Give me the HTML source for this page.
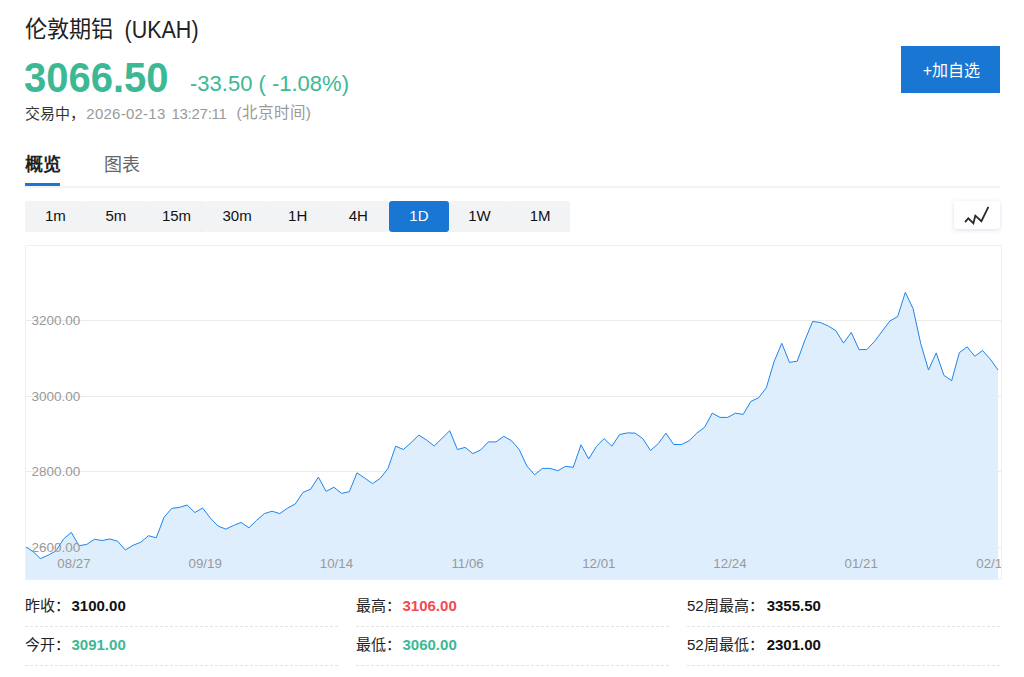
<!DOCTYPE html>
<html lang="zh-CN">
<head>
<meta charset="utf-8">
<title>伦敦期铝 (UKAH)</title>
<style>
html,body{margin:0;padding:0;background:#fff;}
body{width:1024px;height:677px;overflow:hidden;position:relative;font-family:"Liberation Sans",sans-serif;color:#333;}
.abs{position:absolute;white-space:nowrap;}
#title{left:24.5px;top:15px;font-size:22.2px;line-height:30px;color:#222;}
#title2{left:124.5px;top:15.5px;font-size:21.5px;line-height:30px;color:#222;transform:scale(1,1.12);transform-origin:0 22.5px;}
#price{left:24px;top:53px;font-size:40px;line-height:46px;font-weight:bold;color:#3db894;transform:scale(1,1.07);transform-origin:0 9px;}
#chg{left:190px;top:70.5px;font-size:22px;line-height:26px;color:#3db894;}
#ts{left:25px;top:103.5px;font-size:15px;line-height:20px;color:#333;}
.ts{top:103.5px;font-size:15px;line-height:20px;}
.g{color:#999;}
#addbtn{left:901px;top:46px;width:97px;padding-left:2px;height:47px;background:#1976d2;color:#fff;font-size:16px;line-height:49px;text-align:center;}
#tab1{left:25px;top:153px;font-size:18px;line-height:24px;font-weight:bold;color:#222;}
#tab2{left:104px;top:153px;font-size:18px;line-height:24px;color:#666;}
#tabline{left:25px;top:186px;width:975px;height:2px;background:#f4f4f4;}
#tabul{left:25px;top:183px;width:35px;height:3px;background:#1976d2;}
.tf{position:absolute;top:201px;height:31px;width:60.6px;background:#f2f3f5;border-radius:2px;font-size:15px;line-height:30px;text-align:center;color:#111;}
.tf.on{background:#1976d2;color:#fff;border-radius:3px;}
#ico{left:954px;top:200.7px;width:46px;height:28.5px;background:#fff;border-radius:3px;box-shadow:0 1px 4px rgba(40,80,160,0.18);}
#chart{left:0;top:0;}
.row{position:absolute;font-size:15px;line-height:20px;color:#222;}
.row b{font-weight:bold;color:#111;margin-left:1.5px;}
.dash{position:absolute;height:0;border-top:1px dashed #e3e3e3;width:313px;}
</style>
</head>
<body>
<div id="title" class="abs">伦敦期铝</div><div id="title2" class="abs">(UKAH)</div>
<div id="price" class="abs">3066.50</div>
<div id="chg" class="abs">-33.50 ( -1.08%)</div>
<div id="ts" class="abs">交易中，</div><div class="abs ts g" style="left:86.3px;letter-spacing:0.25px">2026-02-13</div><div class="abs ts g" style="left:171.4px;letter-spacing:-0.25px">13:27:11</div><div class="abs ts g" style="left:236.5px;font-size:15.5px;top:103px">(北京时间)</div>
<div id="addbtn" class="abs">+加自选</div>

<div id="tab1" class="abs">概览</div>
<div id="tab2" class="abs">图表</div>
<div id="tabline" class="abs"></div>
<div id="tabul" class="abs"></div>

<div class="tf" style="left:25.00px">1m</div>
<div class="tf" style="left:85.60px">5m</div>
<div class="tf" style="left:146.20px">15m</div>
<div class="tf" style="left:206.80px">30m</div>
<div class="tf" style="left:267.40px">1H</div>
<div class="tf" style="left:328.00px">4H</div>
<div class="tf on" style="left:388.60px">1D</div>
<div class="tf" style="left:449.20px">1W</div>
<div class="tf" style="left:509.80px">1M</div>

<div id="ico" class="abs"><svg width="46" height="29" viewBox="0 0 46 29"><polyline points="11,21.2 14.3,17.3 19.4,22.2 21.3,14.7 27.4,20.2 34.4,5.9" fill="none" stroke="#2a2a2a" stroke-width="1.8" stroke-linejoin="miter"/></svg></div>

<svg id="chart" class="abs" width="1024" height="677" viewBox="0 0 1024 677">
<defs><clipPath id="cp"><rect x="26" y="246" width="975" height="333"/></clipPath></defs>
<rect x="25.5" y="245.5" width="976" height="334" fill="#fff" stroke="#efefef" stroke-width="1"/>
<g stroke="#ebebeb" stroke-width="1">
<line x1="26" y1="320.5" x2="1001" y2="320.5"/>
<line x1="26" y1="396.5" x2="1001" y2="396.5"/>
<line x1="26" y1="471.5" x2="1001" y2="471.5"/>
<line x1="26" y1="547.5" x2="1001" y2="547.5"/>
</g>
<g clip-path="url(#cp)"><polygon points="24.97,579 24.97,546.40 32.69,551.30 40.41,558.60 48.14,555.20 55.86,551.00 63.58,539.00 71.30,532.40 79.03,545.70 86.75,544.40 94.47,539.30 102.19,540.50 109.92,539.00 117.64,541.20 125.36,550.00 133.08,545.30 140.81,542.20 148.53,535.70 156.25,537.80 163.97,517.40 171.70,508.40 179.42,507.40 187.14,505.00 194.86,512.50 202.59,508.00 210.31,518.00 218.03,526.00 225.75,529.10 233.48,525.50 241.20,522.40 248.92,527.80 256.64,520.30 264.37,513.60 272.09,511.20 279.81,513.60 287.53,508.10 295.26,504.00 302.98,492.40 310.70,489.10 318.42,477.10 326.15,491.40 333.87,487.20 341.59,493.40 349.31,491.70 357.04,472.80 364.76,478.10 372.48,483.60 380.20,478.40 387.93,468.60 395.65,446.20 403.37,449.50 411.09,442.60 418.82,435.10 426.54,440.00 434.26,446.00 441.98,438.40 449.71,430.70 457.43,449.50 465.15,447.40 472.87,453.60 480.60,450.00 488.32,441.90 496.04,441.90 503.76,436.30 511.49,440.70 519.21,449.50 526.93,466.00 534.65,474.80 542.37,468.40 550.10,468.40 557.82,470.70 565.54,466.30 573.26,467.30 580.99,444.80 588.71,459.00 596.43,446.40 604.15,438.60 611.88,446.20 619.60,434.50 627.32,432.90 635.04,433.10 642.77,438.60 650.49,450.50 658.21,443.70 665.93,433.10 673.66,444.50 681.38,444.50 689.10,440.80 696.82,433.10 704.55,427.40 712.27,413.10 719.99,417.40 727.71,417.40 735.44,413.20 743.16,414.40 750.88,401.40 758.60,397.80 766.33,387.70 774.05,361.70 781.77,343.30 789.49,362.40 797.22,361.20 804.94,340.10 812.66,321.40 820.38,322.50 828.11,325.90 835.83,330.70 843.55,343.10 851.27,332.40 859.00,349.60 866.72,349.60 874.44,341.50 882.16,331.20 889.89,321.00 897.61,316.60 905.33,292.30 913.05,308.60 920.78,343.70 928.50,370.00 936.22,352.90 943.94,375.40 951.67,380.70 959.39,352.60 967.11,346.90 974.83,356.30 982.56,350.50 990.28,359.10 998.00,370.00 998.00,579" fill="#dfeefd"/>
<polyline points="24.97,546.40 32.69,551.30 40.41,558.60 48.14,555.20 55.86,551.00 63.58,539.00 71.30,532.40 79.03,545.70 86.75,544.40 94.47,539.30 102.19,540.50 109.92,539.00 117.64,541.20 125.36,550.00 133.08,545.30 140.81,542.20 148.53,535.70 156.25,537.80 163.97,517.40 171.70,508.40 179.42,507.40 187.14,505.00 194.86,512.50 202.59,508.00 210.31,518.00 218.03,526.00 225.75,529.10 233.48,525.50 241.20,522.40 248.92,527.80 256.64,520.30 264.37,513.60 272.09,511.20 279.81,513.60 287.53,508.10 295.26,504.00 302.98,492.40 310.70,489.10 318.42,477.10 326.15,491.40 333.87,487.20 341.59,493.40 349.31,491.70 357.04,472.80 364.76,478.10 372.48,483.60 380.20,478.40 387.93,468.60 395.65,446.20 403.37,449.50 411.09,442.60 418.82,435.10 426.54,440.00 434.26,446.00 441.98,438.40 449.71,430.70 457.43,449.50 465.15,447.40 472.87,453.60 480.60,450.00 488.32,441.90 496.04,441.90 503.76,436.30 511.49,440.70 519.21,449.50 526.93,466.00 534.65,474.80 542.37,468.40 550.10,468.40 557.82,470.70 565.54,466.30 573.26,467.30 580.99,444.80 588.71,459.00 596.43,446.40 604.15,438.60 611.88,446.20 619.60,434.50 627.32,432.90 635.04,433.10 642.77,438.60 650.49,450.50 658.21,443.70 665.93,433.10 673.66,444.50 681.38,444.50 689.10,440.80 696.82,433.10 704.55,427.40 712.27,413.10 719.99,417.40 727.71,417.40 735.44,413.20 743.16,414.40 750.88,401.40 758.60,397.80 766.33,387.70 774.05,361.70 781.77,343.30 789.49,362.40 797.22,361.20 804.94,340.10 812.66,321.40 820.38,322.50 828.11,325.90 835.83,330.70 843.55,343.10 851.27,332.40 859.00,349.60 866.72,349.60 874.44,341.50 882.16,331.20 889.89,321.00 897.61,316.60 905.33,292.30 913.05,308.60 920.78,343.70 928.50,370.00 936.22,352.90 943.94,375.40 951.67,380.70 959.39,352.60 967.11,346.90 974.83,356.30 982.56,350.50 990.28,359.10 998.00,370.00" fill="none" stroke="#1e84ec" stroke-width="1" stroke-linejoin="miter"/></g>
<g font-family="Liberation Sans" font-size="13.5" fill="#999">
<text x="31.5" y="325.3">3200.00</text>
<text x="31.5" y="401.2">3000.00</text>
<text x="31.5" y="476.1">2800.00</text>
<text x="31.5" y="552.2">2600.00</text>
</g>
<g font-family="Liberation Sans" font-size="13.3" fill="#999" text-anchor="middle" clip-path="url(#cp)">
<text x="74" y="568">08/27</text>
<text x="205.2" y="568">09/19</text>
<text x="336.4" y="568">10/14</text>
<text x="467.6" y="568">11/06</text>
<text x="598.8" y="568">12/01</text>
<text x="730" y="568">12/24</text>
<text x="861.2" y="568">01/21</text>
<text x="992.4" y="568">02/11</text>
</g>
</svg>

<div class="row" style="left:25px;top:596px">昨收：<b>3100.00</b></div>
<div class="row" style="left:356px;top:596px">最高：<b style="color:#f24a52">3106.00</b></div>
<div class="row" style="left:687px;top:596px">52周最高：<b style="margin-left:3px">3355.50</b></div>
<div class="row" style="left:25px;top:635px">今开：<b style="color:#3db894">3091.00</b></div>
<div class="row" style="left:356px;top:635px">最低：<b style="color:#3db894">3060.00</b></div>
<div class="row" style="left:687px;top:635px">52周最低：<b style="margin-left:3px">2301.00</b></div>
<div class="dash" style="left:25px;top:626px"></div>
<div class="dash" style="left:356px;top:626px"></div>
<div class="dash" style="left:687px;top:626px"></div>
<div class="dash" style="left:25px;top:665px"></div>
<div class="dash" style="left:356px;top:665px"></div>
<div class="dash" style="left:687px;top:665px"></div>
</body>
</html>
